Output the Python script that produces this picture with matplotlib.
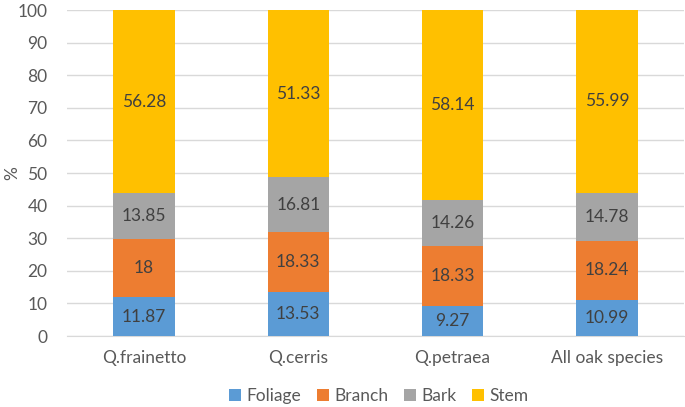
import matplotlib.pyplot as plt
import numpy as np

plt.rcParams['font.family'] = ['Lato', 'DejaVu Sans']

categories = ["Q.frainetto", "Q.cerris", "Q.petraea", "All oak species"]
foliage = [11.87, 13.53, 9.27, 10.99]
branch = [18, 18.33, 18.33, 18.24]
bark = [13.85, 16.81, 14.26, 14.78]
stem = [56.28, 51.33, 58.14, 55.99]

series = [("Foliage", foliage, "#5B9BD5"),
          ("Branch", branch, "#ED7D31"),
          ("Bark", bark, "#A5A5A5"),
          ("Stem", stem, "#FFC000")]

fig = plt.figure(figsize=(6.85, 4.07), dpi=100)
ax = fig.add_axes([0.0978, 0.1744, 0.9007, 0.801])

x = np.arange(len(categories))
bottom = np.zeros(len(categories))
for name, vals, color in series:
    vals = np.array(vals, dtype=float)
    ax.bar(x, vals, 0.4, bottom=bottom, color=color, label=name, zorder=3)
    for xi, b, v in zip(x, bottom, vals):
        ax.text(xi, b + v / 2, f"{v:g}", ha="center", va="center",
                fontsize=12.5, color="#404040", zorder=4)
    bottom += vals

ax.set_xlim(-0.5, len(categories) - 0.5)
ax.set_ylim(0, 100)
ax.set_yticks(np.arange(0, 101, 10))
ax.set_xticks(x)
ax.set_xticklabels(categories)
ax.tick_params(axis="both", length=0, labelsize=12.5, labelcolor="#595959")
ax.tick_params(axis="x", pad=10)
ax.tick_params(axis="y", pad=14)
ax.grid(axis="y", color="#D9D9D9", linewidth=1, zorder=0)
for s in ["top", "right", "left"]:
    ax.spines[s].set_visible(False)
ax.spines["bottom"].set_color("#D9D9D9")
fig.text(0.018, 0.575, "%", rotation=90, ha="center", va="center",
         fontsize=12.5, color="#595959")

handles, labels = ax.get_legend_handles_labels()
fig.legend(handles, labels, loc="center", bbox_to_anchor=(0.553, 0.027), ncol=4,
           frameon=False, fontsize=12.5, labelcolor="#595959", handlelength=0.7,
           handleheight=0.7, handletextpad=0.3, columnspacing=0.9)

fig.savefig("out.png", dpi=100)
